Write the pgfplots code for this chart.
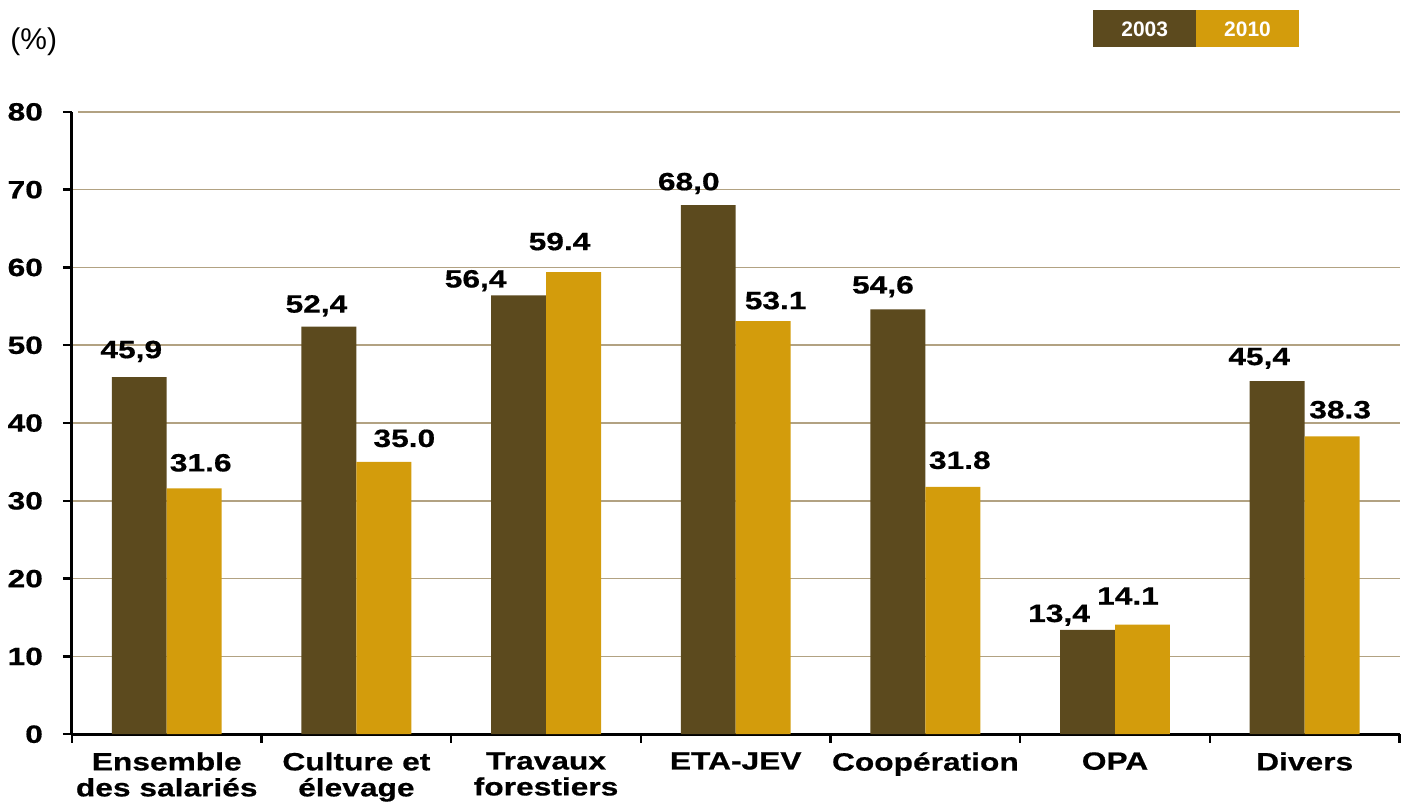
\documentclass[border=0pt]{standalone}
\usepackage{fontspec}
\setmainfont{Liberation Sans}
\newfontfamily\heavy[FakeStretch=1.27, BoldFeatures={FakeBold=0.6}]{Liberation Sans}
\usepackage{pgfplots}
\usepackage{pgfplotstable}
\pgfplotsset{compat=1.18}
\definecolor{cA}{RGB}{92,74,30}
\definecolor{cB}{RGB}{211,156,12}
\definecolor{gridc}{RGB}{178,162,130}
\pgfplotstableread{
x y
0 45.9
1 52.4
2 56.4
3 68.0
4 54.6
5 13.4
6 45.4
}\dataA
\pgfplotstableread{
x y
0 31.6
1 35.0
2 59.4
3 53.1
4 31.8
5 14.1
6 38.3
}\dataB
% label: x, y, xshift(pt), yshift(pt), text
\newcommand\lab[5]{\addplot[draw=none, mark=none, forget plot, nodes near coords={#5},
  every node near coord/.append style={xshift=#3pt, yshift=#4pt}] coordinates {(#1,#2)};}
\begin{document}
\begin{tikzpicture}
\begin{axis}[name=ax, at={(0,0)}, anchor=south west,
  width=664.5pt, height=311.5pt, scale only axis,
  xmin=-0.5, xmax=6.5, ymin=0, ymax=80,
  ytick={0,10,...,80},
  xtick={0,...,6},
  xticklabels={{Ensemble\\des salariés},{Culture et\\élevage},{Travaux\\forestiers},{ETA-JEV},{Coopération},{OPA},{Divers}},
  axis lines*=left,
  axis line style={line width=1.5pt},
  xtick style={draw=none},
  ytick style={draw=black, line width=1.2pt},
  tick align=outside,
  major tick length=4.5pt,
  ymajorgrids,
  grid style={gridc, line width=0.8pt, shorten <=3pt},
  /pgf/number format/assume math mode=true,
  xticklabel style={font=\heavy\bfseries\fontsize{12.5}{13}\selectfont, align=center, yshift=-1pt},
  yticklabel style={font=\heavy\bfseries\fontsize{12.5}{13}\selectfont, xshift=-6.5pt},
  every node near coord/.append style={font=\heavy\bfseries\fontsize{12.5}{13}\selectfont, anchor=base, inner sep=0pt},
  clip=false,
]
\addplot[ybar, bar width=27.5pt, bar shift=-13.75pt, fill=cA, draw=none] table[x=x, y=y] {\dataA};
\addplot[ybar, bar width=27.5pt, bar shift=13.75pt, fill=cB, draw=none] table[x=x, y=y] {\dataB};
% 2003 labels (bar shift -13.75pt + offset)
\lab{0}{45.9}{-17.75}{9.5}{45,9}
\lab{1}{52.4}{-20}{7}{52,4}
\lab{2}{56.4}{-35.25}{4}{56,4}
\lab{3}{68.0}{-23.5}{7.5}{68,0}
\lab{4}{54.6}{-21.25}{8}{54,6}
\lab{5}{13.4}{-28}{4}{13,4}
\lab{6}{45.4}{-22.75}{8}{45,4}
% 2010 labels (bar shift +13.75pt + offset)
\lab{0}{31.6}{17}{8.5}{31.6}
\lab{1}{35.0}{24}{7.5}{35.0}
\lab{2}{59.4}{6.75}{11}{59.4}
\lab{3}{53.1}{20}{6}{53.1}
\lab{4}{31.8}{17.25}{9}{31.8}
\lab{5}{14.1}{6.5}{10}{14.1}
\lab{6}{38.3}{17.75}{9}{38.3}
\end{axis}
\foreach \k in {0,...,7} \draw[line width=1.2pt] ([xshift=\k*94.93pt]ax.south west) -- ++(0,-4.5pt);
\node[fill=cA, text=white, font=\bfseries\fontsize{10.5}{10.5}\selectfont, minimum width=51.5pt, minimum height=18.5pt, inner sep=0pt, anchor=north west] at ([xshift=511pt,yshift=51pt]ax.north west) {2003};
\node[fill=cB, text=white, font=\bfseries\fontsize{10.5}{10.5}\selectfont, minimum width=51.5pt, minimum height=18.5pt, inner sep=0pt, anchor=north west] at ([xshift=562.5pt,yshift=51pt]ax.north west) {2010};
\node[anchor=west, font=\fontsize{15}{15}\selectfont, inner sep=0pt] at ([xshift=-31pt,yshift=35pt]ax.north west) {(\%)};
\path[use as bounding box] ([xshift=-36pt,yshift=-30.5pt]ax.south west) rectangle ++(700.5pt,398pt);
\end{tikzpicture}
\end{document}
